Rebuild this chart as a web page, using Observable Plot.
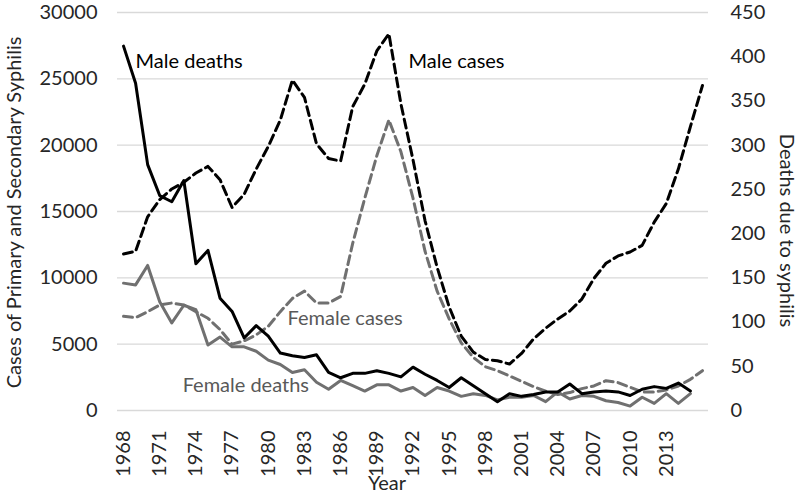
<!DOCTYPE html>
<html><head><meta charset="utf-8">
<script src="https://cdn.jsdelivr.net/npm/d3@7"></script>
<script src="https://cdn.jsdelivr.net/npm/@observablehq/plot@0.6"></script>
<style>body{margin:0;background:#fff;}</style>
</head><body><div id="chart"></div>
<script>
const caseYears = [1968,1969,1970,1971,1972,1973,1974,1975,1976,1977,1978,1979,1980,1981,1982,1983,1984,1985,1986,1987,1988,1989,1990,1991,1992,1993,1994,1995,1996,1997,1998,1999,2000,2001,2002,2003,2004,2005,2006,2007,2008,2009,2010,2011,2012,2013,2014,2015,2016];
const deathYears = [1968,1969,1970,1971,1972,1973,1974,1975,1976,1977,1978,1979,1980,1981,1982,1983,1984,1985,1986,1987,1988,1989,1990,1991,1992,1993,1994,1995,1996,1997,1998,1999,2000,2001,2002,2003,2004,2005,2006,2007,2008,2009,2010,2011,2012,2013,2014,2015];

const maleCases = [11800,12000,14600,15900,16700,17200,17900,18400,17400,15300,16300,18200,19900,21900,24900,23600,20100,19000,18800,22900,24600,27100,28400,23100,18900,14300,10800,7800,5600,4400,3850,3750,3500,4300,5400,6200,6900,7500,8400,9950,11100,11650,11950,12450,14200,15600,18200,21400,24500];
const femaleCases = [7100,7000,7450,7950,8100,7950,7450,6950,6100,5000,5250,5700,6350,7450,8450,9000,8100,8100,8600,12600,16000,19200,21900,19500,16000,12000,9000,6900,5100,4000,3300,3000,2600,2200,1800,1450,1200,1350,1650,1850,2250,2100,1750,1400,1400,1550,1850,2350,3000];
const maleDeaths = [412,370,278,243,236,260,166,181,127,112,82,96,84,65,62,60,63,43,37,42,42,45,42,38,49,41,34,26,37,28,19,10,19,16,18,21,21,30,19,21,22,21,17,24,27,25,31,22];
const femaleDeaths = [144,142,164,123,99,119,114,74,83,72,72,67,57,52,43,46,32,24,34,28,22,29,29,22,26,17,26,22,16,19,17,12,15,15,17,10,21,13,17,16,11,9,5,15,8,19,8,19];

const caseTicks = [0,5000,10000,15000,20000,25000,30000];
const deathTicks = [0,50,100,150,200,250,300,350,400,450];
const yearTicks = [1968,1971,1974,1977,1980,1983,1986,1989,1992,1995,1998,2001,2004,2007,2010,2013];

const K = 30000 / 450; // deaths axis mapped onto cases axis
const rows = (years, vals, f) => years.map((year, i) => ({year, v: vals[i] * f}));

const BLACK = "#000000", GRAY = "#707070";
const font = "Lato, 'Open Sans', sans-serif";

const chart = Plot.plot({
  width: 800, height: 495,
  marginLeft: 117, marginRight: 92, marginTop: 12, marginBottom: 85,
  style: {fontFamily: font, fontSize: "20px", color: "#262626", background: "#fff"},
  x: {domain: [1967.5, 2016.5]},
  y: {domain: [0, 30000]},
  marks: [
    Plot.gridY(caseTicks, {stroke: "#d9d9d9", strokeOpacity: 1, strokeWidth: 1.3}),
    Plot.line(rows(caseYears, maleCases, 1), {x: "year", y: "v", stroke: BLACK, strokeWidth: 3, strokeDasharray: "9,5", strokeLinejoin: "round"}),
    Plot.line(rows(caseYears, femaleCases, 1), {x: "year", y: "v", stroke: GRAY, strokeWidth: 3, strokeDasharray: "9,5", strokeLinejoin: "round"}),
    Plot.line(rows(deathYears, femaleDeaths, K), {x: "year", y: "v", stroke: GRAY, strokeWidth: 3, strokeLinejoin: "round"}),
    Plot.line(rows(deathYears, maleDeaths, K), {x: "year", y: "v", stroke: BLACK, strokeWidth: 3, strokeLinejoin: "round"}),
    Plot.axisY({anchor: "left", ticks: caseTicks, tickSize: 0, tickPadding: 20, label: null, tickFormat: d => String(d)}),
    Plot.axisY({anchor: "right", ticks: deathTicks.map(v => v * K), tickSize: 0, tickPadding: 22, label: null, tickFormat: d => String(Math.round(d / K))}),
    Plot.axisX({ticks: yearTicks, tickRotate: -90, tickSize: 0, tickPadding: 20, label: null, tickFormat: d => String(d)}),
    Plot.text(["Year"], {frameAnchor: "bottom", lineAnchor: "middle", textAnchor: "middle", dy: 73, dx: -26, text: d => d, fill: "#262626"}),
    Plot.text(["Cases of Primary and Secondary Syphilis"], {frameAnchor: "left", textAnchor: "middle", lineAnchor: "middle", dx: -103, dy: 1, rotate: -90, text: d => d, fill: "#262626"}),
    Plot.text(["Deaths due to syphilis"], {frameAnchor: "right", textAnchor: "middle", lineAnchor: "middle", dx: 78, dy: 19, rotate: 90, text: d => d, fill: "#262626"}),
    Plot.text([{x: 1969, y: 26300, t: "Male deaths"}], {x: "x", y: "y", text: "t", textAnchor: "start", fill: BLACK}),
    Plot.text([{x: 1991.63, y: 26300, t: "Male cases"}], {x: "x", y: "y", text: "t", textAnchor: "start", fill: BLACK}),
    Plot.text([{x: 1981.6, y: 6940, t: "Female cases"}], {x: "x", y: "y", text: "t", textAnchor: "start", fill: "#595959"}),
    Plot.text([{x: 1972.9, y: 1866, t: "Female deaths"}], {x: "x", y: "y", text: "t", textAnchor: "start", fill: "#595959"})
  ]
});
document.getElementById("chart").appendChild(chart);
</script>
</body></html>
